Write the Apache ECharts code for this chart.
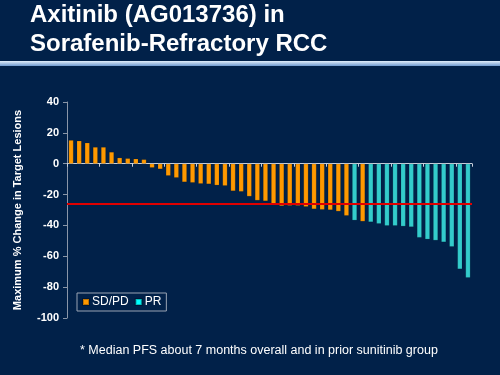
<!DOCTYPE html>
<html>
<head>
<meta charset="utf-8">
<script src="https://cdn.jsdelivr.net/npm/echarts@6/dist/echarts.min.js"></script>
<style>
  html, body { margin: 0; padding: 0; background: #012149; }
  #chart { width: 500px; height: 375px; }
</style>
</head>
<body>
<div id="chart"></div>
<script>
// patients, sorted by change; response type per patient
var patients = [];
for (var i = 1; i <= 50; i++) patients.push('P' + i);
var changes = [15.3, 14.9, 13.6, 10.8, 10.8, 7.6, 3.9, 3.5, 3.2, 2.8,
               -2.6, -3.5, -7.8, -9.1, -11.9, -12.3, -13, -13.2, -14, -14.3,
               -17.7, -18.1, -21.2, -23.8, -24.2, -26.6, -27.4, -27.2, -27.2, -27.9,
               -29.4, -29.8, -30, -30.9, -33.7, -36.7, -37.4, -37.8, -38.9, -40.2,
               -40.2, -40.6, -41, -47.9, -49, -49.7, -50.8, -53.8, -68.3, -73.9];
var response = ['SD/PD', 'SD/PD', 'SD/PD', 'SD/PD', 'SD/PD', 'SD/PD', 'SD/PD', 'SD/PD', 'SD/PD', 'SD/PD',
                'SD/PD', 'SD/PD', 'SD/PD', 'SD/PD', 'SD/PD', 'SD/PD', 'SD/PD', 'SD/PD', 'SD/PD', 'SD/PD',
                'SD/PD', 'SD/PD', 'SD/PD', 'SD/PD', 'SD/PD', 'SD/PD', 'SD/PD', 'SD/PD', 'SD/PD', 'SD/PD',
                'SD/PD', 'SD/PD', 'SD/PD', 'SD/PD', 'SD/PD', 'PR', 'SD/PD', 'PR', 'PR', 'PR',
                'PR', 'PR', 'PR', 'PR', 'PR', 'PR', 'PR', 'PR', 'PR', 'PR'];
var median_line = -26;

var pick = function (type) {
    return changes.map(function (v, i) { return response[i] === type ? v : '-'; });
};

var color_map = {'SD/PD': '#FF9900', 'PR': '#33CCCC'};
var legend_map = {'SD/PD': '#FF9900', 'PR': '#00FFFF'};

var option = {
    backgroundColor: '#012149',
    animation: false,
    title: {
        text: 'Axitinib (AG013736) in\nSorafenib-Refractory RCC',
        left: 30,
        top: 1,
        padding: 0,
        textStyle: {
            color: '#ffffff',
            fontFamily: 'Liberation Sans',
            fontWeight: 'bold',
            fontSize: 24,
            lineHeight: 29
        }
    },
    graphic: [{
        type: 'rect',
        left: 0,
        top: 61,
        shape: {width: 500, height: 5},
        style: {
            fill: new echarts.graphic.LinearGradient(0, 0, 0, 1, [
                {offset: 0, color: '#e2eefa'},
                {offset: 1, color: '#6f9bd0'}
            ])
        }
    }, {
        type: 'text',
        left: 80,
        top: 344,
        style: {
            text: '* Median PFS about 7 months overall and in prior sunitinib group',
            fill: '#ffffff',
            font: '12.5px "Liberation Sans"'
        }
    }],
    legend: {
        data: ['SD/PD', 'PR'].map(function (n) {
            return {name: n, itemStyle: {color: legend_map[n]}};
        }),
        left: 77,
        top: 293,
        orient: 'horizontal',
        icon: 'rect',
        itemWidth: 6,
        itemHeight: 6,
        itemGap: 6,
        padding: [3, 5, 3, 5],
        borderColor: '#9aa4b4',
        borderWidth: 1,
        textStyle: {color: '#ffffff', fontSize: 12, fontFamily: 'Liberation Sans', padding: [0, 0, 0, -2]}
    },
    grid: {
        left: 67,
        right: 28,
        top: 102,
        bottom: 57
    },
    xAxis: {
        type: 'category',
        data: patients,
        axisLine: {onZero: true, lineStyle: {color: '#c8d0dc', width: 1}},
        axisTick: {show: true, length: 3, lineStyle: {color: '#c8d0dc'}},
        axisLabel: {show: false},
        splitLine: {show: false}
    },
    yAxis: {
        type: 'value',
        min: -100,
        max: 40,
        interval: 20,
        name: 'Maximum % Change in Target Lesions',
        nameLocation: 'middle',
        nameGap: 44,
        nameTextStyle: {color: '#ffffff', fontWeight: 'bold', fontSize: 11, fontFamily: 'Liberation Sans'},
        axisLine: {show: true, lineStyle: {color: '#8a96a8'}},
        axisTick: {show: true, length: 4, lineStyle: {color: '#8a96a8'}},
        axisLabel: {
            color: '#ffffff',
            fontWeight: 'bold',
            fontSize: 11,
            fontFamily: 'Liberation Sans',
            margin: 8
        },
        splitLine: {show: false}
    },
    series: ['SD/PD', 'PR'].map(function (n, k) {
        var s = {
            name: n,
            type: 'bar',
            stack: 'all',
            data: pick(n),
            barCategoryGap: '40%',
            itemStyle: {color: color_map[n], borderColor: 'rgba(0,0,0,0.25)', borderWidth: 0.5}
        };
        if (k === 0) {
            s.markLine = {
                silent: true,
                symbol: 'none',
                label: {show: false},
                lineStyle: {color: '#E00000', width: 2, type: 'solid'},
                data: [{yAxis: median_line}]
            };
        }
        return s;
    })
};

var myChart = echarts.init(document.getElementById('chart'));
myChart.setOption(option);
</script>
</body>
</html>
